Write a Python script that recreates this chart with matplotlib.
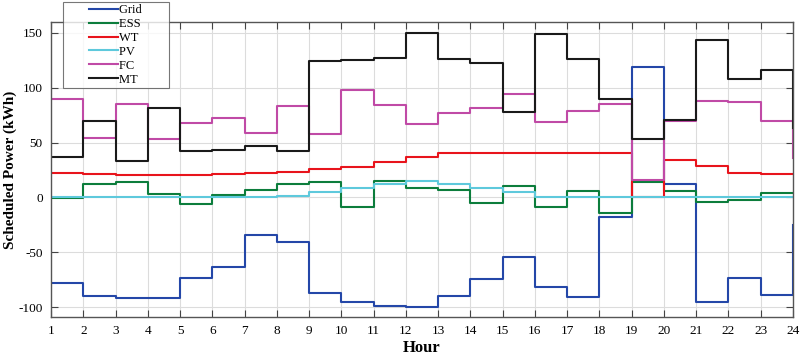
import numpy as np
import matplotlib.pyplot as plt
from matplotlib.legend_handler import HandlerBase
from matplotlib.lines import Line2D

# Heures et puissances planifiées (kWh)
hours = list(range(1, 25))
grid = [-78, -90, -92, -92, -73, -63, -34, -41, -87, -95, -99, -100,
        -90, -74, -54, -82, -91, -18, 119, 12, -95, -73, -89, -25]
ess = [-1, 12, 14, 3, -6, 2, 7, 12, 14, -9, 15, 9,
       7, -5, 10, -9, 6, -14, 14, 6, -4, -2, 4, 4]
wt = [22, 21, 20.5, 20.5, 20.5, 21.5, 22, 23.5, 26, 28, 32, 37,
      40, 40, 40, 40, 40, 40, 0.5, 34, 28.5, 22, 21, 21]
pv = [0, 0, 0, 0, 0, 0, 0.5, 1, 4.5, 9, 12.5, 14.5,
      12, 9, 4.5, 0.5, 0.5, 0.5, 0.5, 0.5, 0.5, 0.5, 0.5, 0.5]
fc = [90, 54, 85, 53, 68, 72, 59, 83, 58, 98, 84.5, 67,
      77, 81, 94.5, 69, 78.5, 85, 15.5, 70, 88, 86.5, 69.5, 36]
mt = [36.5, 69.5, 33.5, 81, 42, 43, 46.5, 42.5, 124.5, 125.5, 127, 150,
      126, 122, 78, 149, 126, 90, 53.5, 70.3, 143.5, 107.5, 116.5, 63.5]

series = [('Grid', grid, '#2447a8'), ('ESS', ess, '#0c7d3c'),
          ('WT', wt, '#e8141c'), ('PV', pv, '#5ec9dc'),
          ('FC', fc, '#c04aa6'), ('MT', mt, '#1a1a1a')]


# trait de légende décalé vers la droite (espace vide à gauche, comme MATLAB)
class ShiftedLine(HandlerBase):
    def create_artists(self, legend, orig_handle, xdescent, ydescent,
                       width, height, fontsize, trans):
        y = height / 2 - ydescent
        x0 = -xdescent + 0.44 * width
        x1 = -xdescent + width
        line = Line2D([x0, x1], [y, y], color=orig_handle.get_color(),
                      linewidth=orig_handle.get_linewidth(), transform=trans)
        return [line]


plt.rcParams['font.family'] = 'Liberation Serif'
plt.rcParams['axes.unicode_minus'] = False

fig = plt.figure(figsize=(8, 3.57), dpi=100)
ax = fig.add_axes([0.064, 0.112, 0.927, 0.827])

for name, vals, col in series:
    ax.step(hours, vals, where='post', color=col, linewidth=1.5, label=name)

ax.set_xlim(1, 24)
ax.set_ylim(-109, 160)
ax.set_xticks(hours)
ax.set_yticks([-100, -50, 0, 50, 100, 150])
ax.grid(True, color='#dcdcdc', linewidth=0.8)
ax.set_axisbelow(True)
ax.tick_params(direction='in', top=True, right=True, labelsize=9.5,
               length=5, color='#444444', pad=6)
for s in ax.spines.values():
    s.set_color('#555555')
    s.set_linewidth(1.0)

ax.set_xlabel('Hour', fontsize=12, fontweight='bold', labelpad=2)
ax.set_ylabel('Scheduled Power (kWh)', fontsize=11, fontweight='bold', labelpad=1)

handles, labels = ax.get_legend_handles_labels()
labels = [l + '        ' for l in labels]
leg = ax.legend(handles, labels, loc='upper left', bbox_to_anchor=(0.0158, 1.068),
                fontsize=9, frameon=True, fancybox=False, edgecolor='#555555',
                handlelength=4.2, handletextpad=0.05, labelspacing=0.15,
                borderpad=0.2, borderaxespad=0,
                handler_map={Line2D: ShiftedLine()})
leg.get_frame().set_linewidth(0.8)

fig.savefig('out.png', dpi=100)
